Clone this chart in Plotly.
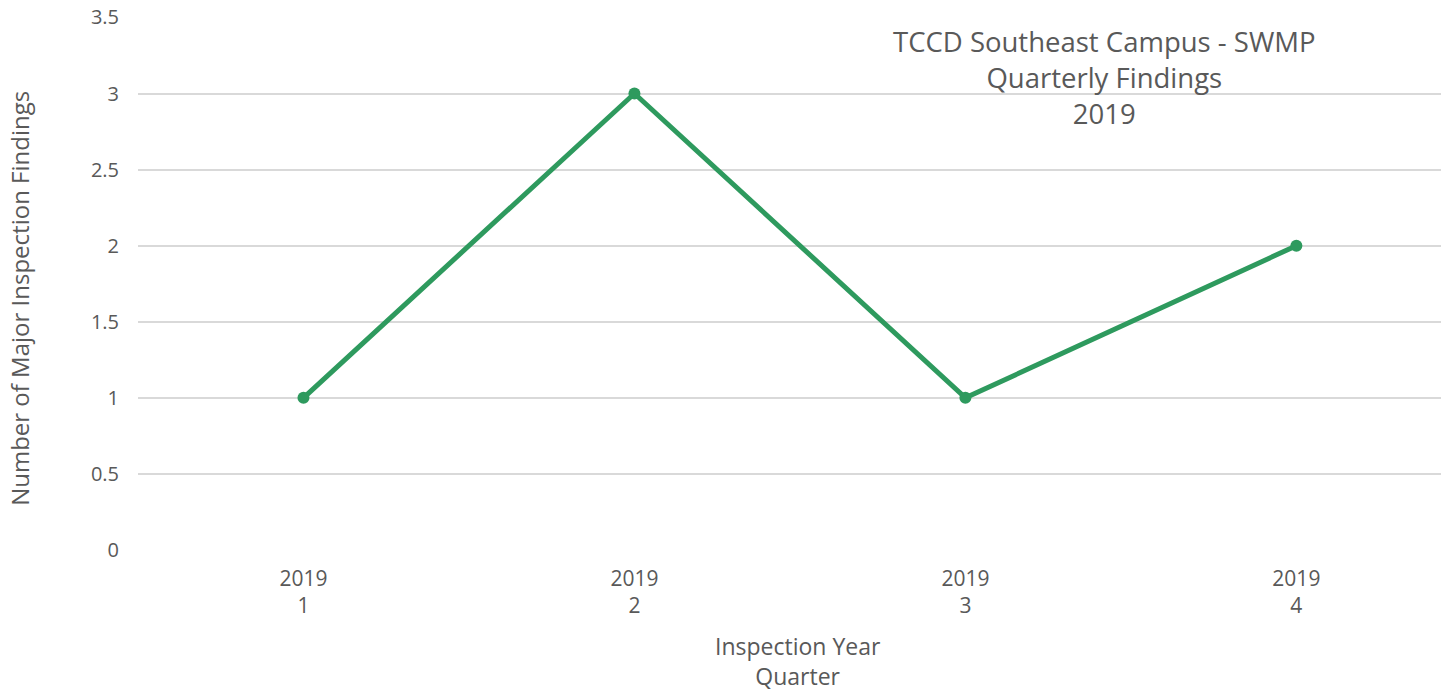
import plotly.graph_objects as go

years = ["2019", "2019", "2019", "2019"]
quarters = ["1", "2", "3", "4"]
findings = [1, 3, 1, 2]
categories = [f"{y}<br>{q}" for y, q in zip(years, quarters)]
y_ticks = [0, 0.5, 1, 1.5, 2, 2.5, 3, 3.5]
y_tick_labels = ["0", "0.5", "1", "1.5", "2", "2.5", "3", "3.5"]
title_lines = ["TCCD Southeast Campus - SWMP", "Quarterly Findings", "2019"]
x_title = "Inspection Year<br>Quarter"
y_title = "Number of Major Inspection Findings"

GREEN = "#2e9a5e"
GREY = "#595959"
FONT = "Open Sans"

fig = go.Figure()
fig.add_trace(go.Scatter(
    x=categories, y=findings, mode="lines+markers",
    line=dict(color=GREEN, width=5),
    marker=dict(color=GREEN, size=12),
    showlegend=False, cliponaxis=False,
))

fig.update_layout(
    width=1446, height=691,
    margin=dict(l=138, r=5, t=17, b=141, autoexpand=False),
    paper_bgcolor="white", plot_bgcolor="white",
    font=dict(family=FONT, color=GREY),
    xaxis=dict(
        type="category", range=[-0.5, 3.437], automargin=False,
        showgrid=False, zeroline=False, showline=False,
        tickfont=dict(size=21, color=GREY), ticklabelstandoff=14,
    ),
    yaxis=dict(
        range=[0, 3.503], tickvals=y_ticks, ticktext=y_tick_labels, automargin=False,
        showgrid=True, gridcolor="#d9d9d9", gridwidth=1.5,
        zeroline=False, showline=False,
        tickfont=dict(size=20, color=GREY), ticklabelstandoff=18,
    ),
    annotations=[
        dict(
            text="<br>".join(title_lines), x=0.742, y=0.993, xref="paper", yref="paper",
            xanchor="center", yanchor="top", showarrow=False, align="center",
            font=dict(size=27.5, color=GREY, family=FONT),
        ),
        dict(
            text=x_title, x=0.5065, y=-0.208, xref="paper", yref="paper",
            xanchor="center", yanchor="middle", showarrow=False, align="center",
            font=dict(size=23, color=GREY, family=FONT),
        ),
        dict(
            text=y_title, x=-0.0906, y=0.473, xref="paper", yref="paper", textangle=-90,
            xanchor="center", yanchor="middle", showarrow=False,
            font=dict(size=24, color=GREY, family=FONT),
        ),
    ],
)

fig.write_html(
    "out.html",
    config={"displayModeBar": False},
    post_script="document.body.style.margin='0';document.body.style.overflow='hidden';",
)
